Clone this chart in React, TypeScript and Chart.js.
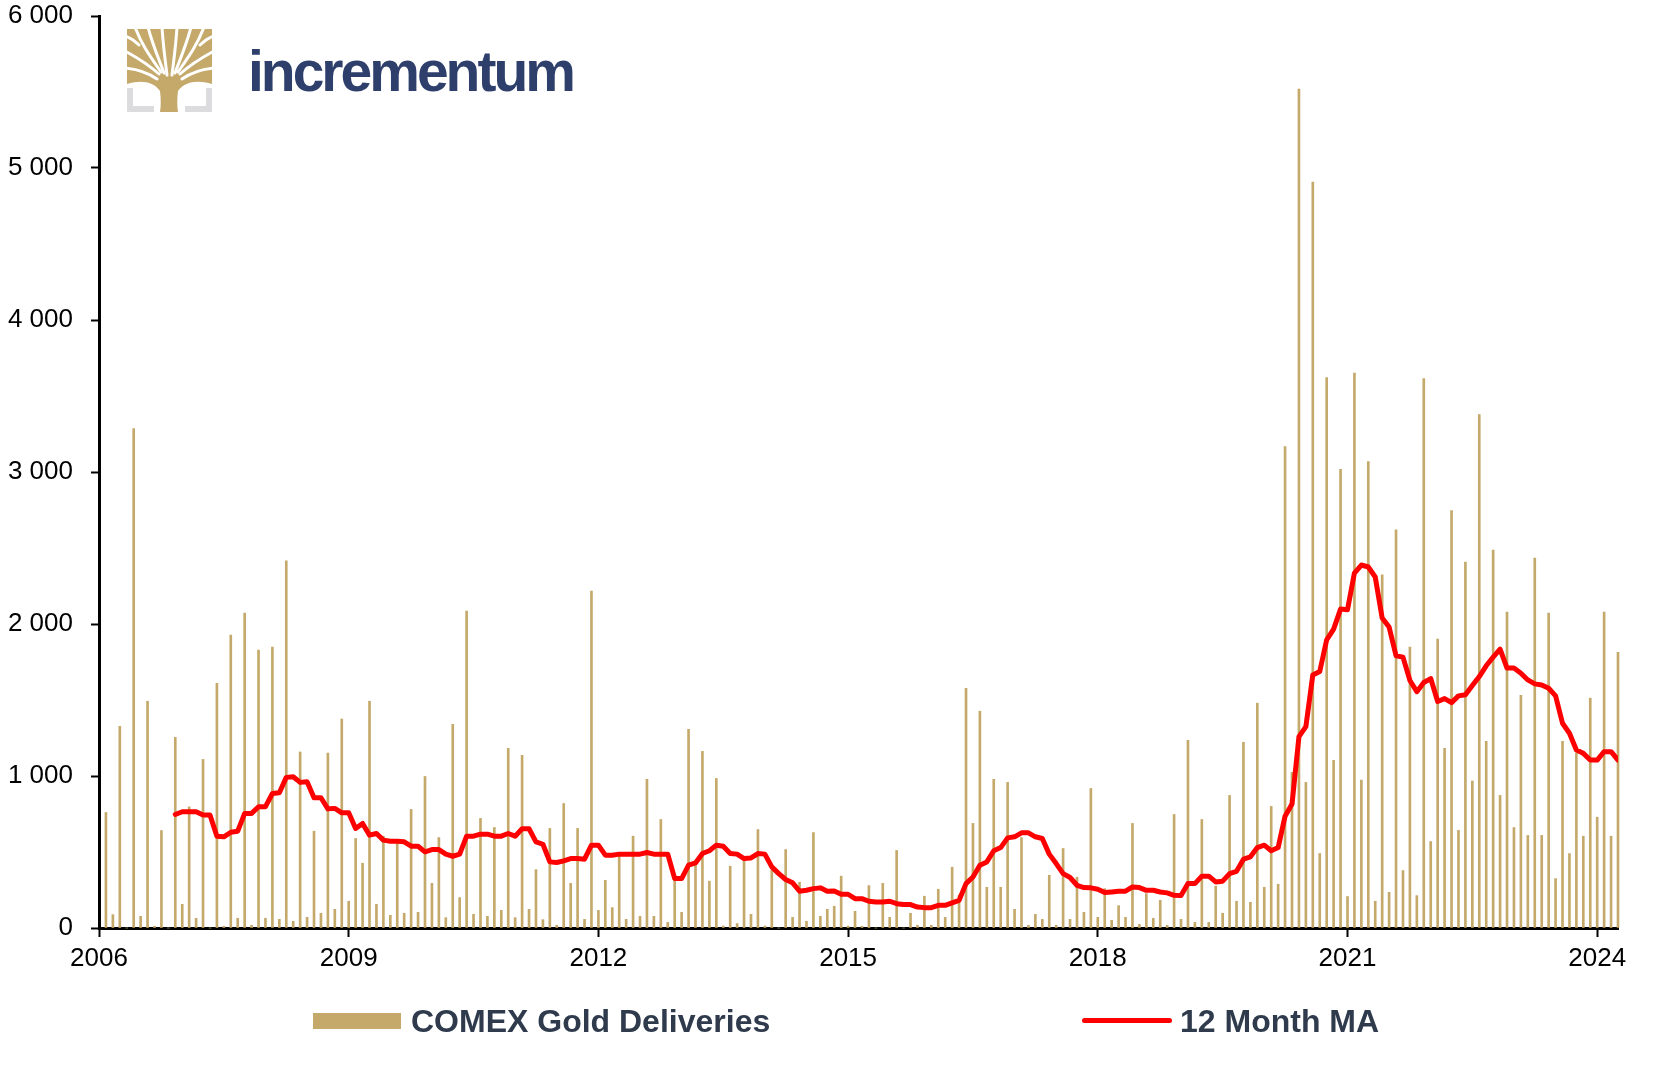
import React, { useEffect, useRef } from 'react';
import { Chart, registerables } from 'chart.js';

Chart.register(...registerables);

// Monthly COMEX gold deliveries, Jan 2006 .. Mar 2024
const startYear = 2006;
const deliveries: number[] = [
  760, 88, 1327, 0, 3285, 77, 1492, 11, 641, 0, 1254, 156,
  797, 64, 1109, 0, 1610, 11, 1927, 64, 2072, 18, 1828, 64,
  1848, 57, 2415, 44, 1158, 70, 637, 97, 1151, 123, 1375, 176,
  589, 426, 1492, 156, 604, 83, 567, 97, 780, 103, 997, 294,
  595, 68, 1340, 200, 2085, 90, 721, 77, 661, 116, 1182, 68,
  1136, 123, 384, 55, 655, 18, 819, 294, 655, 57, 2217, 116,
  314, 134, 472, 57, 604, 77, 978, 77, 714, 37, 314, 103,
  1307, 413, 1162, 308, 984, 13, 406, 29, 439, 90, 648, 13,
  380, 0, 516, 70, 301, 44, 628, 77, 123, 143, 341, 13,
  110, 11, 279, 0, 294, 70, 510, 0, 97, 18, 209, 18,
  255, 70, 400, 217, 1577, 688, 1426, 268, 978, 268, 958, 123,
  595, 18, 90, 57, 347, 18, 523, 57, 334, 103, 918, 70,
  259, 51, 147, 70, 688, 24, 226, 64, 182, 18, 747, 57,
  1235, 37, 714, 37, 275, 97, 872, 176, 1222, 169, 1479, 268,
  800, 288, 3167, 1024, 5520, 958, 4907, 490, 3622, 1103, 3017, 207,
  3650, 973, 3068, 176, 2324, 235, 2620, 378, 1848, 213, 3615, 569,
  1900, 1182, 2747, 642, 2408, 967, 3378, 1228, 2487, 872, 2078, 661,
  1531, 609, 2434, 609, 2072, 325, 1228, 490, 1150, 604, 1512, 729,
  2078, 604, 1813,
];

// 12 month moving average, starting Nov 2006 (month index 10)
const maStartIndex = 10;
const movingAverage: number[] = [
  747, 765,
  765, 765, 743, 743, 604, 600, 630, 637, 754, 754, 798, 798,
  885, 890, 991, 995, 958, 962, 857, 857, 784, 787, 758, 758,
  655, 688, 611, 622, 578, 571, 571, 567, 538, 538, 501, 516,
  516, 486, 472, 486, 604, 604, 617, 617, 604, 604, 622, 604,
  653, 653, 567, 551, 435, 431, 442, 457, 457, 453, 545, 545,
  479, 479, 486, 486, 486, 486, 497, 486, 486, 486, 325, 325,
  413, 428, 490, 508, 545, 538, 490, 486, 457, 461, 490, 486,
  402, 358, 319, 297, 242, 248, 259, 264, 242, 244, 222, 222,
  193, 193, 176, 171, 171, 176, 160, 154, 154, 138, 134, 134,
  149, 149, 165, 182, 292, 336, 413, 435, 508, 529, 593, 600,
  626, 626, 600, 589, 486, 424, 358, 332, 281, 266, 264, 255,
  233, 237, 242, 242, 270, 266, 248, 248, 237, 231, 215, 213,
  292, 292, 341, 341, 303, 308, 358, 373, 453, 468, 529, 545,
  508, 529, 736, 815, 1259, 1325, 1665, 1688, 1896, 1966, 2098, 2094,
  2335, 2388, 2375, 2309, 2039, 1980, 1791, 1782, 1628, 1555, 1615, 1641,
  1490, 1509, 1483, 1527, 1534, 1595, 1654, 1725, 1782, 1835, 1710, 1710,
  1676, 1632, 1606, 1599, 1577, 1527, 1347, 1281, 1171, 1149, 1105, 1105,
  1160, 1160, 1105,
];

const xTickLabels = ['2006', '2009', '2012', '2015', '2018', '2021', '2024'];
const yTickLabels = ['0', '1 000', '2 000', '3 000', '4 000', '5 000', '6 000'];
const seriesNames = ['COMEX Gold Deliveries', '12 Month MA'];

const GOLD = '#C4A96B';
const RED = '#FF0000';
const LEGEND_TEXT = '#2F3B4C';
const FONT = "'Liberation Sans', Arial, Helvetica, sans-serif";

function Logo() {
  return (
    <>
      <svg
        width={85}
        height={83}
        viewBox="0 0 85 83"
        style={{ position: 'absolute', left: 127, top: 29 }}
      >
        <path
          fill={GOLD}
          d="M0,0 H85 V55 C71,51 58,52 51,62 C50,70 50,77 51,83 L33,83 C34,77 34,70 33,62 C26,52 14,51 0,55 Z"
        />
        <g fill="none" stroke="#fff" strokeWidth={3} strokeLinecap="round">
          <path d="M40,46 C38,30 36,15 35,-2" />
          <path d="M45,46 C47,30 49,15 50,-2" />
          <path d="M37,44 C31,28 25,14 21,-2" />
          <path d="M48,44 C54,28 60,14 64,-2" />
          <path d="M34,43 C25,30 15,17 8,-2" />
          <path d="M51,43 C60,30 70,17 77,-2" />
          <path d="M32,45 C22,36 11,29 -2,22" />
          <path d="M53,45 C63,36 74,29 87,22" />
          <path d="M30,50 C20,43 10,40 -2,39" />
          <path d="M55,50 C65,43 75,40 87,39" />
          <path d="M-2,7 C4,9 8,12 12,16" />
          <path d="M87,7 C81,9 77,12 73,16" />
        </g>
        <g fill="#DCDCDE">
          <path d="M0,59 L6,59 L6,77 L27,77 L27,83 L0,83 Z" />
          <path d="M85,59 L79,59 L79,77 L58,77 L58,83 L85,83 Z" />
        </g>
      </svg>
      <div
        style={{
          position: 'absolute',
          left: 248,
          top: 43,
          fontFamily: FONT,
          fontWeight: 'bold',
          fontSize: 57,
          lineHeight: '57px',
          letterSpacing: -3,
          color: '#2E3F6B',
          whiteSpace: 'nowrap',
        }}
      >
        incrementum
      </div>
    </>
  );
}

function Legend() {
  const textStyle: React.CSSProperties = {
    position: 'absolute',
    top: 1005,
    height: 32,
    lineHeight: '32px',
    fontFamily: FONT,
    fontWeight: 'bold',
    fontSize: 32,
    color: LEGEND_TEXT,
    whiteSpace: 'nowrap',
  };
  return (
    <>
      <div
        style={{
          position: 'absolute',
          left: 313,
          top: 1013,
          width: 88,
          height: 16,
          background: GOLD,
        }}
      />
      <div style={{ ...textStyle, left: 411 }}>{seriesNames[0]}</div>
      <div
        style={{
          position: 'absolute',
          left: 1082,
          top: 1018,
          width: 90,
          height: 5,
          borderRadius: 2.5,
          background: RED,
        }}
      />
      <div style={{ ...textStyle, left: 1180 }}>{seriesNames[1]}</div>
    </>
  );
}

export default function App() {
  const canvasRef = useRef<HTMLCanvasElement | null>(null);

  useEffect(() => {
    const canvas = canvasRef.current;
    if (!canvas) return;

    const barPoints = deliveries.map((v, i) => ({ x: i + 1, y: v }));
    const maPoints = movingAverage.map((v, k) => ({ x: maStartIndex + k + 1, y: v }));
    const totalMonths = deliveries.length;

    const chart = new Chart(canvas, {
      type: 'bar',
      data: {
        datasets: [
          {
            type: 'line',
            label: seriesNames[1],
            data: maPoints,
            borderColor: RED,
            backgroundColor: RED,
            borderWidth: 5,
            pointRadius: 0,
            tension: 0,
            borderJoinStyle: 'round',
            borderCapStyle: 'round',
            order: 0,
          } as any,
          {
            type: 'bar',
            label: seriesNames[0],
            data: barPoints,
            backgroundColor: GOLD,
            barThickness: 2,
            order: 1,
            clip: false,
          } as any,
        ],
      },
      options: {
        animation: false,
        responsive: false,
        maintainAspectRatio: false,
        devicePixelRatio: 1,
        layout: { padding: { left: 0, top: 16, right: 58, bottom: 0 } },
        plugins: {
          legend: { display: false },
          tooltip: { enabled: false },
        },
        scales: {
          x: {
            type: 'linear',
            min: 0,
            max: totalMonths,
            offset: false,
            grid: {
              display: true,
              offset: false,
              drawOnChartArea: false,
              drawTicks: true,
              tickLength: 9,
              tickWidth: 2,
              tickColor: '#000',
            },
            border: { display: true, color: '#000', width: 3 },
            ticks: {
              autoSkip: false,
              maxRotation: 0,
              minRotation: 0,
              padding: 6,
              color: '#000',
              font: { family: FONT, size: 26 },
              callback: (_v: any, index: number) => xTickLabels[index],
            },
            afterBuildTicks: (scale: any) => {
              scale.ticks = xTickLabels.map((l) => ({ value: (Number(l) - startYear) * 12 }));
            },
            afterFit: (scale: any) => {
              scale.height = 1066 - 928;
              scale.paddingLeft = 0;
              scale.paddingRight = 0;
            },
          },
          y: {
            type: 'linear',
            min: 0,
            max: 6000,
            grid: {
              display: true,
              drawOnChartArea: false,
              drawTicks: true,
              tickLength: 8,
              tickWidth: 2,
              tickColor: '#000',
            },
            border: { display: true, color: '#000', width: 3 },
            ticks: {
              stepSize: 1000,
              padding: 18,
              color: '#000',
              font: { family: FONT, size: 26 },
              callback: (v: any) => yTickLabels[Math.round(Number(v) / 1000)],
            },
            afterFit: (scale: any) => {
              scale.width = 99;
              scale.paddingTop = 0;
              scale.paddingBottom = 0;
            },
          },
        },
      } as any,
    });

    return () => {
      chart.destroy();
    };
  }, []);

  return (
    <div
      style={{
        position: 'absolute',
        left: 0,
        top: 0,
        width: 1676,
        height: 1066,
        background: '#fff',
        overflow: 'hidden',
      }}
    >
      <canvas
        ref={canvasRef}
        width={1676}
        height={1066}
        style={{ position: 'absolute', left: 0, top: 0, width: 1676, height: 1066 }}
      />
      <Logo />
      <Legend />
    </div>
  );
}
